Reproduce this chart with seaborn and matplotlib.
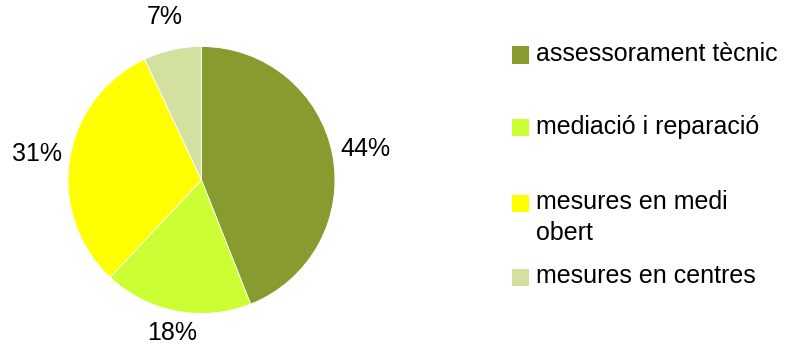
import matplotlib
matplotlib.use("Agg")
import matplotlib.pyplot as plt
import seaborn as sns
import numpy as np
from matplotlib.patches import Rectangle

sns.set_theme(style="white")
plt.rcParams['font.family'] = ['Liberation Sans', 'DejaVu Sans']

categories = ["assessorament tècnic", "mediació i reparació", "mesures en medi\nobert", "mesures en centres"]
values = [44, 18, 31, 7]
colors = ["#889B2F", "#CCFF33", "#FFFF00", "#D3E1A0"]

W, H = 800, 352
fig = plt.figure(figsize=(W / 100, H / 100), dpi=100)
fig.patch.set_facecolor("white")

cx, cy, r = 201.5, 180, 133.5
ax = fig.add_axes([(cx - r) / W, 1 - (cy + r) / H, 2 * r / W, 2 * r / H])
wedges, texts, autotexts = ax.pie(
    values, colors=colors, startangle=90, counterclock=False,
    autopct=lambda p: f"{p:.0f}%", pctdistance=1.23,
    wedgeprops=dict(linewidth=0.6, edgecolor="white"),
    textprops=dict(fontsize=18, color="#000000"),
)
label_dist = [1.25, 1.17, 1.25, 1.25]
for w, t, d in zip(wedges, autotexts, label_dist):
    ang = np.deg2rad((w.theta1 + w.theta2) / 2)
    t.set_position((d * np.cos(ang), d * np.sin(ang)))
ax.set_xlim(-1, 1)
ax.set_ylim(-1, 1)
ax.set_aspect("equal")
ax.axis("off")

leg_y = [55, 128, 203, 277]
for lab, col, y in zip(categories, colors, leg_y):
    fig.patches.append(Rectangle((512 / W, 1 - (y + 8.5) / H), 17 / W, 17 / H,
                                 transform=fig.transFigure, facecolor=col,
                                 edgecolor="none", figure=fig))
    for k, line in enumerate(lab.split("\n")):
        fig.text(536 / W, 1 - (y - 1 + 31 * k) / H, line, fontsize=18,
                 color="#000000", va="center", ha="left")

fig.savefig("out.png", dpi=100, facecolor="white")
